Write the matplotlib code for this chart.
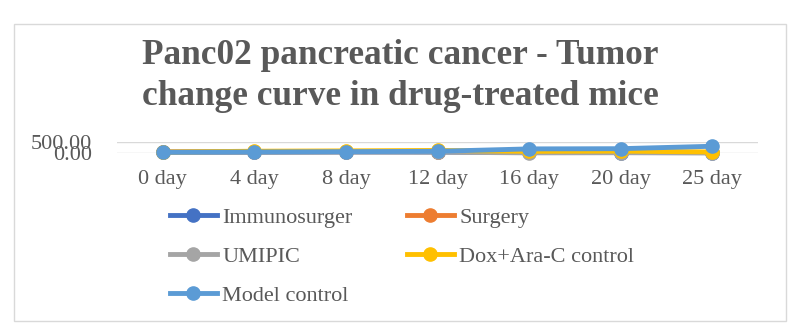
import numpy as np
import matplotlib.pyplot as plt
from matplotlib.patches import Rectangle

plt.rcParams['font.family'] = ['Liberation Serif', 'DejaVu Serif']

days = ["0 day", "4 day", "8 day", "12 day", "16 day", "20 day", "25 day"]
immunosurger = [50, 55, 60, 55, 40, 35, 30]
surgery = [60, 65, 75, 80, 60, 70, 40]
umipic = [45, 50, 55, 50, 20, 25, 15]
dox_arac = [55, 95, 110, 130, 90, 100, 60]
model_control = [45, 60, 75, 90, 200, 210, 320]

series = [
    ("Immunosurger", immunosurger, "#4472C4"),
    ("Surgery", surgery, "#ED7D31"),
    ("UMIPIC", umipic, "#A5A5A5"),
    ("Dox+Ara-C control", dox_arac, "#FFC000"),
    ("Model control", model_control, "#5B9BD5"),
]

W, H = 791, 330
fig = plt.figure(figsize=(W / 100, H / 100), dpi=100)
txt = "#595959"

# chart frame
fig.patches.append(Rectangle((13.5 / W, 1 - 321 / H), (786 - 13.5) / W, (321 - 24) / H,
                             transform=fig.transFigure, fill=False,
                             edgecolor="#D9D9D9", linewidth=1.0))

fig.text(400 / W, 1 - 76 / H,
         "Panc02 pancreatic cancer - Tumor\nchange curve in drug-treated mice",
         ha="center", va="center", fontsize=25.4, fontweight="bold", color=txt,
         linespacing=1.32)

ax = fig.add_axes([117 / W, 1 - 153.3 / H, (758 - 117) / W, 11 / H])
x = np.arange(len(days))
handles = {}
for name, vals, col in series:
    ln, = ax.plot(x, vals, color=col, linewidth=3.5, marker="o", markersize=9.5,
                  clip_on=False, label=name)
    handles[name] = ln

ax.set_xlim(-0.5, len(days) - 0.5)
ax.set_ylim(0, 500)
ax.set_yticks([0, 500])
ax.set_yticklabels(["0.00", "500.00"])
ax.set_xticks(x)
ax.set_xticklabels(days)
ax.grid(axis="y", color="#D9D9D9", linewidth=1)
ax.set_axisbelow(True)
for s in ax.spines.values():
    s.set_visible(False)
ax.tick_params(axis="both", length=0, labelsize=16, labelcolor=txt)
ax.tick_params(axis="y", pad=18)
ax.tick_params(axis="x", pad=12)

order = ["Immunosurger", "UMIPIC", "Model control", "Surgery", "Dox+Ara-C control"]
fig.legend([handles[n] for n in order], order, ncol=2, frameon=False,
           loc="upper left", bbox_to_anchor=(150 / W, 1 - 187 / H),
           fontsize=16, labelcolor=txt, handlelength=2.1, handletextpad=0.25,
           columnspacing=2.45, labelspacing=0.83)

fig.savefig("out.png", dpi=100)
